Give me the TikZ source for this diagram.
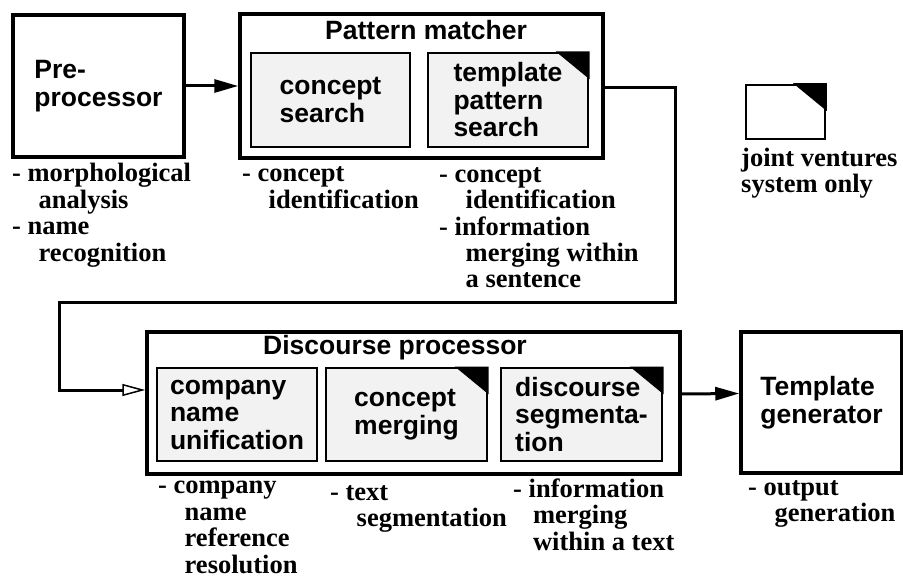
\documentclass[tikz,border=0pt]{standalone}
\usepackage{fontspec}
\setmainfont{Liberation Serif}
\setsansfont{Liberation Sans}
\usetikzlibrary{arrows.meta, positioning, calc}

\newcommand{\jvcorner}[1]{%
  \fill ($(#1.north east)+(-33,-0.75)$) -- ($(#1.north east)+(0.75,-0.75)$) -- ($(#1.north east)+(0.75,27)$) -- cycle;}

\begin{document}
\begin{tikzpicture}[x=1pt, y=-1pt,
  bigbox/.style={draw, line width=3.5pt, inner sep=0pt, align=left, font=\sffamily\bfseries\fontsize{26.5}{27.5}\selectfont},
  subbox/.style={draw, line width=1.5pt, fill=gray!10, inner sep=0pt, align=left, font=\sffamily\bfseries\fontsize{26.5}{27.5}\selectfont},
  boxtitle/.style={anchor=base west, inner sep=0pt, font=\sffamily\bfseries\fontsize{26.5}{27.5}\selectfont},
  note/.style={anchor=base west, inner sep=0pt, align=left, font=\bfseries\fontsize{26.5}{26.5}\selectfont},
  flow/.style={line width=3pt, -{Triangle[length=24pt, width=13pt]}}
]
  \useasboundingbox (0,0) rectangle (903,580);

  \node[bigbox, minimum width=171pt, minimum height=142pt] (preproc) at (98.5,86) {Pre-\\processor};

  \node[bigbox, minimum width=363pt, minimum height=144pt] (matcher) at (421.5,86) {};
  \node[boxtitle] (matchertitle) at (325,40) {Pattern matcher};
  \node[subbox, minimum width=159pt, minimum height=94pt] (search) at (330.5,100) {concept\\search};
  \node[subbox, minimum width=160pt, minimum height=94pt] (tmplsearch) at (508,100) {template\\pattern\\search};
  \jvcorner{tmplsearch}

  \node[draw, line width=2pt, inner sep=0pt, minimum width=79pt, minimum height=54pt] (legend) at (785.5,112) {};
  \jvcorner{legend}
  \node[note] (legendtext) at (741,193) {joint ventures\\system only};

  \node[bigbox, minimum width=533pt, minimum height=142pt] (discourse) at (413.5,403) {};
  \node[boxtitle] (discoursetitle) at (263,355) {Discourse processor};
  \node[subbox, minimum width=160pt, minimum height=93pt] (unify) at (237,414.5) {company\\name\\unification};
  \node[subbox, minimum width=161pt, minimum height=93pt] (merge) at (406.5,414.5) {concept\\merging};
  \jvcorner{merge}
  \node[subbox, minimum width=161pt, minimum height=93pt] (segment) at (581.5,414.5) {discourse\\segmenta-\\tion};
  \jvcorner{segment}

  \node[bigbox, minimum width=161pt, minimum height=141pt] (generator) at (821.5,402.5) {Template\\generator};

  \node[note] (prenote) at (12,261.5) {- morphological\\\hspace*{1em}analysis\\- name\\\hspace*{1em}recognition};
  \node[note] (searchnote) at (242,208.5) {- concept\\\hspace*{1em}identification};
  \node[note] (tmplnote) at (439,288) {- concept\\\hspace*{1em}identification\\- information\\\hspace*{1em}merging within\\\hspace*{1em}a sentence};
  \node[note] (unifynote) at (158,573) {- company\\\hspace*{1em}name\\\hspace*{1em}reference\\\hspace*{1em}resolution};
  \node[note] (mergenote) at (330,526.5) {- text\\\hspace*{1em}segmentation};
  \node[note] (segmentnote) at (513,550) {- information\\\hspace*{0.75em}merging\\\hspace*{0.75em}within a text};
  \node[note] (generatornote) at (748,521.5) {- output\\\hspace*{1em}generation};

  \coordinate (turnright) at (675,303);
  \coordinate (turnleft) at (59,303);

  \draw[flow] (preproc) -- (matcher);
  \draw[line width=3pt, -{Triangle[open, fill=white, line width=1.5pt, length=23pt, width=12pt]}]
    ([yshift=-2pt]matcher.east) -| (turnright) -- (turnleft) |- ([yshift=13pt]discourse.west);
  \draw[flow] ([yshift=9pt]discourse.east) -- ([yshift=9pt]generator.west);
\end{tikzpicture}
\end{document}
